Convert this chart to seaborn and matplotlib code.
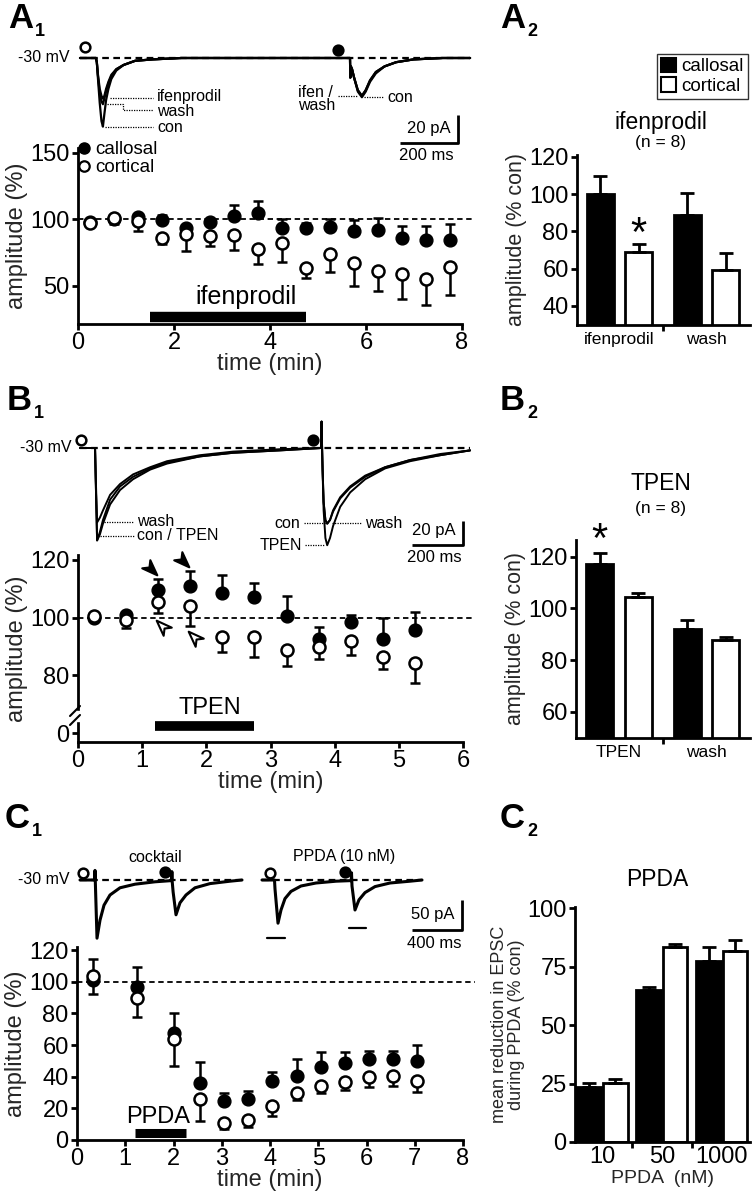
import matplotlib
matplotlib.use("Agg")
import matplotlib.pyplot as plt
from matplotlib.markers import MarkerStyle
from matplotlib.path import Path
from matplotlib.transforms import Affine2D
import matplotlib.lines as mlines
import matplotlib.patches as mpatches
import seaborn as sns
import pandas as pd
import numpy as np

# ---------------- data ----------------
# A1 time course (ifenprodil)
A1_TIME = [0.25, 0.75, 1.25, 1.75, 2.25, 2.75, 3.25, 3.75, 4.25, 4.75, 5.25, 5.75, 6.25, 6.75, 7.25, 7.75]
A1_CAL = [98, 100, 101.5, 99, 93, 97.5, 102.5, 104.5, 93, 93, 94, 91, 91.5, 86, 84, 84]
A1_CAL_SEM = [1, 1, 1, 4, 2, 1, 8, 9, 7, 4, 6, 8, 9.5, 8.5, 11, 12.5]
A1_COR = [97, 101, 98.5, 85.5, 89, 87, 88, 77.5, 82, 63.5, 73.5, 67, 61, 58.5, 55, 64]
A1_COR_SEM = [1, 5, 7.5, 4.5, 13, 7, 11, 11.5, 14, 7.5, 13.5, 17, 15.5, 18.5, 20, 21]

# B1 time course (TPEN)
B1_TIME = [0.25, 0.75, 1.25, 1.75, 2.25, 2.75, 3.25, 3.75, 4.25, 4.75, 5.25]
B1_CAL = [100, 101, 109.6, 111, 108.4, 107, 100.7, 92.7, 98.5, 92.5, 95.7]
B1_CAL_SEM = [1, 1, 3.8, 5, 6.5, 5.1, 6.8, 4.2, 2.4, 7.4, 6.4]
B1_COR = [100.7, 99.2, 105.5, 104, 93.4, 93.2, 88.8, 89.7, 91.9, 86.5, 84.4]
B1_COR_SEM = [1.5, 2.9, 3.8, 7, 5.3, 7, 5.6, 4, 4.8, 4.2, 7.2]
B1_ARROW_T = [1.14, 1.64, 1.31, 1.81]
B1_ARROW_Y = [117.0, 119.7, 97.1, 93.3]

# C1 time course (PPDA)
C1_TIME = [0.33, 1.25, 2.0, 2.55, 3.05, 3.55, 4.05, 4.55, 5.05, 5.55, 6.05, 6.55, 7.05]
C1_CAL = [101, 96.4, 67.4, 35.8, 24.8, 25.7, 37, 40.4, 46.3, 48.6, 51.5, 51, 50]
C1_CAL_SEM = [13.5, 13, 12.6, 13.7, 4.6, 5.3, 6.1, 10.5, 9.5, 7, 5, 5, 10]
C1_COR = [103.8, 89.7, 63.6, 25.9, 10.5, 12.6, 21.7, 29.9, 34.3, 36.6, 39.8, 40.4, 37.3]
C1_COR_SEM = [11.8, 12.2, 16.6, 13.7, 3.8, 4.2, 6.3, 4.6, 4.8, 5, 6, 6, 7]

# bar panels
A2_GROUPS = ["ifenprodil", "wash"]
A2_CAL = [100.2, 88.6]
A2_CAL_SEM = [9.4, 11.8]
A2_COR = [68.9, 59.3]
A2_COR_SEM = [4.5, 9.3]

B2_GROUPS = ["TPEN", "wash"]
B2_CAL = [117.2, 91.9]
B2_CAL_SEM = [4.1, 3.6]
B2_COR = [104.3, 87.7]
B2_COR_SEM = [1.8, 1.3]

C2_GROUPS = ["10", "50", "1000"]
C2_CAL = [23.6, 64.9, 77.5]
C2_CAL_SEM = [1.7, 1.4, 5.8]
C2_COR = [25.3, 83.3, 81.8]
C2_COR_SEM = [1.8, 1.6, 4.7]

# example EPSC traces (ms, pA)
A1_TR_T = [0, 55, 58, 62, 68, 74, 79, 84, 90, 98, 108, 125, 150, 190, 250, 350,
           931, 932, 934, 938, 945, 958, 972, 985, 1000, 1020, 1050, 1090, 1150, 1250, 1345]
A1_TR_CON = [0, 0, -3, -15, -32, -45, -49, -40, -30, -22, -15, -9, -5, -2, -1, 0,
             0, -14, -6, -8, -14, -24, -28, -24, -17, -11, -6, -3, -1, 0, 0]
A1_TR_IFEN = [0, 0, -3, -12, -22, -27, -29, -27, -22, -17, -12, -8, -5, -2, -1, 0,
              0, -14, -6, -8, -14, -23, -27, -23, -16, -10, -6, -3, -1, 0, 0]
A1_TR_WASH = [0, 0, -3, -13, -25, -31, -33, -29, -24, -18, -13, -8, -5, -2, -1, 0,
              0, -14, -6, -8, -14, -23, -27, -23, -16, -10, -6, -3, -1, 0, 0]

B1_TR_T = [0, 57, 59, 62, 67, 78, 90, 118, 157, 208, 275, 341, 470, 600, 784,
           945, 947, 949, 951, 955, 962, 969, 980, 992, 1020, 1059, 1118, 1196, 1294, 1412, 1529]
B1_TR_CON = [0, 0, 0, -30, -77, -70, -60, -43, -32, -24, -17, -12, -7, -4, -2,
             0, 22, 0, -18, -45, -60, -63, -60, -53, -42, -33, -24, -16, -10, -6, -2]
B1_TR_TPEN = [0, 0, 0, -30, -77, -72, -63, -47, -35, -26, -18, -13, -7, -4, -2,
              0, 22, 0, -20, -52, -75, -81, -75, -65, -49, -37, -26, -17, -11, -6, -2]
B1_TR_WASH = [0, 0, 0, -26, -62, -58, -52, -39, -30, -22, -16, -11, -6, -3, -1,
              0, 22, 0, -18, -45, -60, -63, -60, -52, -41, -32, -23, -16, -10, -5, -2]

C1_COCK_T = [0, 118, 120, 125, 136, 160, 192, 240, 320, 440, 600, 733, 735, 737, 745, 768, 800, 848, 920, 1040, 1200, 1296]
C1_COCK_I = [0, 0, 16, -20, -97, -67, -42, -25, -13, -7, -3, -1, 14, -1, -20, -58, -38, -25, -13, -6, -2, 0]
C1_PPDA_T = [1456, 1556, 1560, 1584, 1608, 1640, 1688, 1768, 1888, 2048, 2170, 2172, 2176, 2200, 2232, 2280, 2360, 2480, 2640, 2736]
C1_PPDA_I = [0, 0, -15, -72, -50, -31, -19, -10, -5, -2, -1, 12, -10, -50, -33, -21, -11, -5, -2, 0]

# ---------------- figure ----------------
sns.set_theme(style="ticks")
plt.rcParams['font.family'] = ['Liberation Sans', 'DejaVu Sans']
plt.rcParams['axes.facecolor'] = 'none'
plt.rcParams['axes.linewidth'] = 2.0
plt.rcParams['xtick.major.width'] = 2.0
plt.rcParams['ytick.major.width'] = 2.0
plt.rcParams['xtick.major.size'] = 4
plt.rcParams['ytick.major.size'] = 4
plt.rcParams['xtick.color'] = 'black'
plt.rcParams['ytick.color'] = 'black'
plt.rcParams['axes.edgecolor'] = 'black'
plt.rcParams['text.color'] = 'black'

W, H = 753, 1199
fig = plt.figure(figsize=(W / 100, H / 100), dpi=100)


def add_ax(l, t, r, b):
    return fig.add_axes([l / W, 1 - b / H, (r - l) / W, (b - t) / H])


# overlay in pixel units for labels / annotations
ov = fig.add_axes([0, 0, 1, 1])
ov.set_xlim(0, W)
ov.set_ylim(H, 0)
ov.axis('off')
ov.set_zorder(10)

TICK_FS = 17
LAB_FS = 17
SMALL_FS = 11.5


def panel_label(x, y, letter, sub):
    ov.text(x, y, letter, fontsize=25, fontweight='bold', ha='left', va='center')
    ov.text(x + 27, y + 12, sub, fontsize=13, fontweight='bold', ha='left', va='center')


def style_axis(ax):
    sns.despine(ax=ax)
    ax.tick_params(labelsize=TICK_FS, pad=2)


def time_course(ax, t, cal, cal_sem, cor, cor_sem):
    z = np.zeros(len(t))
    ax.axhline(100, xmax=1.03, color='black', lw=1.3, ls=(0, (3, 2)), zorder=1, clip_on=False)
    ax.errorbar(t, cal, yerr=[z, cal_sem], fmt='none', ecolor='black',
                elinewidth=1.8, capsize=3.8, capthick=1.8, zorder=2)
    ax.errorbar(t, cor, yerr=[cor_sem, z], fmt='none', ecolor='black',
                elinewidth=1.8, capsize=3.8, capthick=1.8, zorder=2)
    sns.scatterplot(x=t, y=cal, ax=ax, color='black', edgecolor='black', s=85,
                    linewidth=1, zorder=3, clip_on=False)
    sns.scatterplot(x=t, y=cor, ax=ax, color='white', edgecolor='black', s=75,
                    linewidth=1.8, zorder=4, clip_on=False)
    style_axis(ax)
    ax.set_xlabel("time (min)", fontsize=LAB_FS, labelpad=-1)
    ax.set_ylabel("amplitude (%)", fontsize=LAB_FS, labelpad=2)


def bar_panel(ax, groups, cal, cal_sem, cor, cor_sem, gap):
    n = len(groups)
    df = pd.DataFrame({"group": groups * 2,
                       "input": ["callosal"] * n + ["cortical"] * n,
                       "value": cal + cor})
    sns.barplot(data=df, x="group", y="value", hue="input",
                palette={"callosal": "black", "cortical": "white"},
                edgecolor="black", linewidth=2, width=0.88, gap=gap,
                errorbar=None, legend=False, ax=ax)
    for p, e in zip(ax.patches, cal_sem + cor_sem):
        xc = p.get_x() + p.get_width() / 2
        ax.errorbar([xc], [p.get_height()], yerr=[[0], [e]], fmt='none', ecolor='black',
                    elinewidth=2, capsize=5, capthick=2, zorder=3)
    style_axis(ax)
    ax.set_xlabel("")
    ax.tick_params(axis='x', length=0, labelsize=12.5, pad=5)
    ax.set_xticks(np.arange(n - 1) + 0.5, minor=True)
    ax.tick_params(axis='x', which='minor', length=4, width=2, direction='out')


def trace_ax(l, t, r, b, x0, ms_px, base, pa_px):
    ax = add_ax(l, t, r, b)
    ax.set_xlim((l - x0) * ms_px, (r - x0) * ms_px)
    ax.set_ylim(-(b - base) * pa_px, -(t - base) * pa_px)
    ax.axis('off')
    return ax


def draw_traces(ax, t, traces, lw):
    rows = []
    for name, vals in traces.items():
        rows.append(pd.DataFrame({"t": t, "i": vals, "cond": name}))
    df = pd.concat(rows)
    sns.lineplot(data=df, x="t", y="i", units="cond", estimator=None, sort=False,
                 color="black", lw=lw, ax=ax, legend=False)


def dotted(xs, ys):
    ov.plot(xs, ys, color='black', lw=0.9, ls=(0, (1, 1)))


def stim_marks(points):
    for x, y, filled in points:
        ov.plot(x, y, 'o', ms=7, mew=1.8, mec='black', mfc='black' if filled else 'white')


def scalebar(x_right, y_bottom, xlen, ylen, ytxt, xtxt, ylab_y, xlab_y):
    ov.plot([x_right - xlen, x_right, x_right], [y_bottom, y_bottom, y_bottom - ylen],
            color='black', lw=2, solid_capstyle='butt')
    ov.text(x_right - 7, ylab_y, ytxt, fontsize=12, ha='right', va='center')
    ov.text(x_right - xlen / 2 - 3, xlab_y, xtxt, fontsize=12, ha='center', va='center')


# ======== A1 ========
panel_label(8, 19, "A", "1")
ta = trace_ax(0, 30, 490, 165, 80, 3.448, 58, 0.714)
ta.plot([0, 1345], [0, 0], color='black', lw=1.6, ls=(0, (3, 2)))
draw_traces(ta, A1_TR_T, {"con": A1_TR_CON, "ifen": A1_TR_IFEN, "wash": A1_TR_WASH}, 1.6)
ov.text(70, 57, "-30 mV", fontsize=SMALL_FS, ha='right', va='center')
stim_marks([(85, 47, False), (338, 50, True)])
ov.text(157, 97, "ifenprodil", fontsize=SMALL_FS, va='center')
ov.text(157, 111, "wash", fontsize=SMALL_FS, va='center')
ov.text(157, 127, "con", fontsize=SMALL_FS, va='center')
dotted([110, 153], [98, 98])
dotted([107, 123, 123, 153], [104, 104, 110, 110])
dotted([105, 153], [127, 127])
ov.text(298, 99, "ifen /\nwash", fontsize=SMALL_FS, va='center', linespacing=0.85)
dotted([338, 358], [96, 96])
ov.text(387, 97, "con", fontsize=SMALL_FS, va='center')
dotted([364, 384], [97, 97])
scalebar(458, 143, 58, 28, "20 pA", "200 ms", 128, 156)

a1 = add_ax(78, 148, 462, 324)
time_course(a1, A1_TIME, A1_CAL, A1_CAL_SEM, A1_COR, A1_COR_SEM)
a1.set_xlim(0, 8)
a1.set_ylim(21, 153.6)
a1.set_xticks([0, 2, 4, 6, 8])
a1.set_yticks([50, 100, 150])
a1.plot([1.5, 4.75], [26.5, 26.5], color='black', lw=7.5, solid_capstyle='butt', clip_on=False)
a1.text(3.5, 41, "ifenprodil", fontsize=18, ha='center', va='center')
leg_h = [mlines.Line2D([], [], ls='none', marker='o', ms=8, mfc='black', mec='black'),
         mlines.Line2D([], [], ls='none', marker='o', ms=7.5, mfc='white', mec='black', mew=1.6)]
a1.legend(leg_h, ["callosal", "cortical"], loc='upper left', bbox_to_anchor=(0.0, 1.04),
          frameon=False, fontsize=13.5, handlelength=0.6, handletextpad=0.3,
          labelspacing=0.05, borderpad=0, borderaxespad=0)

# ======== A2 ========
panel_label(500, 19, "A", "2")
a2 = add_ax(577, 155, 750, 325)
bar_panel(a2, A2_GROUPS, A2_CAL, A2_CAL_SEM, A2_COR, A2_COR_SEM, gap=0.3)
a2.set_xlim(-0.49, 1.5)
a2.set_ylim(29.8, 120.9)
a2.set_yticks([40, 60, 80, 100, 120])
a2.set_ylabel("amplitude (% con)", fontsize=15.5, labelpad=2)
a2.text(0.22, 78, "*", fontsize=30, ha='center', va='center')
ov.text(661, 123, "ifenprodil", fontsize=16.5, ha='center', va='center')
ov.text(661, 142, "(n = 8)", fontsize=12.5, ha='center', va='center')
bar_h = [mpatches.Patch(facecolor='black', edgecolor='black', lw=1.5),
         mpatches.Patch(facecolor='white', edgecolor='black', lw=1.5)]
fig.legend(bar_h, ["callosal", "cortical"], loc='upper left',
           bbox_to_anchor=(657 / W, 1 - 54 / H), frameon=True, fancybox=False,
           edgecolor='black', fontsize=13.5, handlelength=0.8, handleheight=0.8,
           handletextpad=0.3, labelspacing=0.1, borderpad=0.2, borderaxespad=0)

# ======== B1 ========
panel_label(7, 401, "B", "1")
tb = trace_ax(0, 410, 490, 560, 80, 3.92, 448, 0.833)
tb.plot([0, 1529], [0, 0], color='black', lw=1.6, ls=(0, (3, 2)))
draw_traces(tb, B1_TR_T, {"con": B1_TR_CON, "TPEN": B1_TR_TPEN, "wash": B1_TR_WASH}, 1.4)
ov.text(72, 448, "-30 mV", fontsize=SMALL_FS, ha='right', va='center')
stim_marks([(81, 440, False), (313, 440, True)])
ov.text(137, 522, "wash", fontsize=SMALL_FS, va='center')
ov.text(137, 536, "con / TPEN", fontsize=SMALL_FS, va='center')
dotted([104, 134], [522, 522])
dotted([100, 134], [536, 536])
ov.text(300, 523, "con", fontsize=SMALL_FS, ha='right', va='center')
ov.text(302, 545, "TPEN", fontsize=SMALL_FS, ha='right', va='center')
dotted([304, 328], [523, 523])
dotted([305, 325], [545, 545])
ov.text(365, 523, "wash", fontsize=SMALL_FS, va='center')
dotted([332, 362], [523, 523])
scalebar(463, 545, 51, 24, "20 pA", "200 ms", 531, 558)

b1 = add_ax(78, 555, 463, 742)
time_course(b1, B1_TIME, B1_CAL, B1_CAL_SEM, B1_COR, B1_COR_SEM)
b1.set_xlim(0, 6)
b1.set_ylim(56.9, 121.7)
b1.set_xticks([0, 1, 2, 3, 4, 5, 6])
b1.set_yticks([60, 80, 100, 120])
b1.set_yticklabels(["0", "80", "100", "120"])
b1.plot([1.2, 2.75], [62.5, 62.5], color='black', lw=7, solid_capstyle='butt', clip_on=False)
b1.text(2.05, 68.6, "TPEN", fontsize=LAB_FS, ha='center', va='center')
dart = Path([(0, 1), (0.7, -0.9), (0, -0.35), (-0.7, -0.9), (0, 1)],
            [Path.MOVETO, Path.LINETO, Path.LINETO, Path.LINETO, Path.CLOSEPOLY])
for k, (tx, ty) in enumerate(zip(B1_ARROW_T, B1_ARROW_Y)):
    filled = k < 2
    ang = -135 if filled else 45
    m = MarkerStyle(dart, transform=Affine2D().rotate_deg(ang))
    b1.scatter([tx], [ty], marker=m, s=140, facecolor='black' if filled else 'white',
               edgecolor='black', linewidth=1.5, zorder=5, clip_on=False)
# axis break
ov.fill([72, 84, 84, 72], [711, 711, 721, 721], color='white', zorder=3)
ov.plot([70, 80], [716, 706], color='black', lw=1.5, zorder=4)
ov.plot([70, 80], [725, 715], color='black', lw=1.5, zorder=4)

# ======== B2 ========
panel_label(500, 401, "B", "2")
b2 = add_ax(576, 540, 750, 738)
bar_panel(b2, B2_GROUPS, B2_CAL, B2_CAL_SEM, B2_COR, B2_COR_SEM, gap=0.3)
b2.set_xlim(-0.49, 1.5)
b2.set_ylim(49.8, 126.5)
b2.set_yticks([60, 80, 100, 120])
b2.set_ylabel("amplitude (% con)", fontsize=15.5, labelpad=2)
b2.text(-0.22, 126, "*", fontsize=30, ha='center', va='center', clip_on=False)
ov.text(661, 483, "TPEN", fontsize=16.5, ha='center', va='center')
ov.text(661, 508, "(n = 8)", fontsize=12.5, ha='center', va='center')

# ======== C1 ========
panel_label(5, 819, "C", "1")
tc = trace_ax(0, 850, 490, 950, 80, 8.0, 880, 1.667)
tc.plot([0, 1296], [0, 0], color='black', lw=1.6, ls=(0, (3, 2)))
tc.plot([1456, 2736], [0, 0], color='black', lw=1.6, ls=(0, (3, 2)))
draw_traces(tc, C1_COCK_T, {"cocktail": C1_COCK_I}, 2.2)
draw_traces(tc, C1_PPDA_T, {"ppda": C1_PPDA_I}, 2.2)
ov.text(70, 880, "-30 mV", fontsize=SMALL_FS, ha='right', va='center')
stim_marks([(83, 873, False), (165, 872, True), (270, 873, False), (345, 872, True)])
ov.text(155, 857, "cocktail", fontsize=SMALL_FS, ha='center', va='center')
ov.text(344, 857, "PPDA (10 nM)", fontsize=SMALL_FS, ha='center', va='center')
ov.plot([267, 285], [938, 938], color='black', lw=1.6)
ov.plot([349, 366], [928, 928], color='black', lw=1.6)
scalebar(462, 930, 50, 30, "50 pA", "400 ms", 914, 943)

c1 = add_ax(77, 947, 463, 1140)
time_course(c1, C1_TIME, C1_CAL, C1_CAL_SEM, C1_COR, C1_COR_SEM)
c1.set_xlim(0, 8)
c1.set_ylim(0, 122)
c1.set_xticks(range(0, 9))
c1.set_yticks(range(0, 121, 20))
c1.plot([1.2, 2.26], [4.5, 4.5], color='black', lw=6.5, solid_capstyle='butt')
c1.text(1.68, 14.5, "PPDA", fontsize=LAB_FS, ha='center', va='center')

# ======== C2 ========
panel_label(500, 819, "C", "2")
c2 = add_ax(575, 907, 750, 1142)
bar_panel(c2, C2_GROUPS, C2_CAL, C2_CAL_SEM, C2_COR, C2_COR_SEM, gap=0.06)
c2.set_xlim(-0.45, 2.47)
c2.set_ylim(0, 100.6)
c2.set_yticks([0, 25, 50, 75, 100])
c2.tick_params(axis='x', labelsize=TICK_FS, pad=3)
c2.set_xlabel("PPDA  (nM)", fontsize=14, labelpad=1)
c2.set_ylabel("mean reduction in EPSC\nduring PPDA (% con)", fontsize=13, labelpad=2, linespacing=1.0)
ov.text(657, 880, "PPDA", fontsize=16.5, ha='center', va='center')

fig.savefig("out.png", dpi=100)
